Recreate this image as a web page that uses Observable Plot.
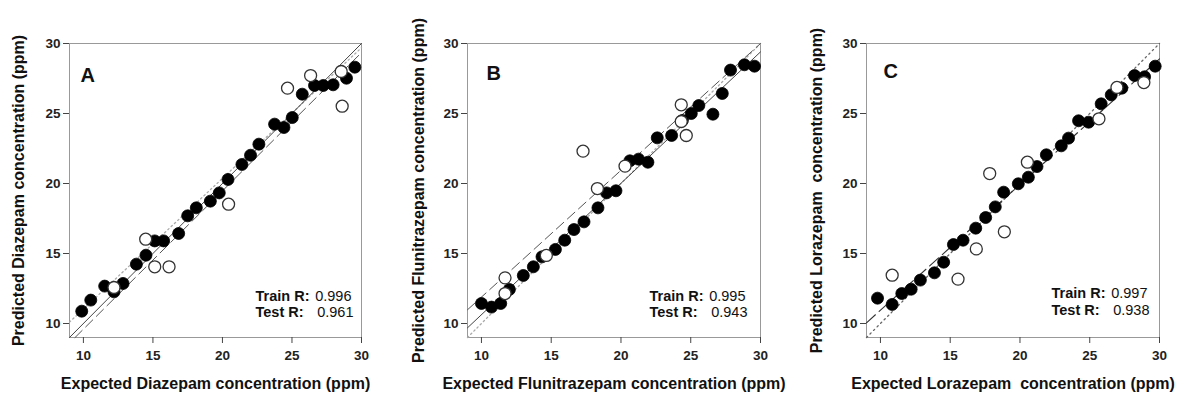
<!DOCTYPE html>
<html><head><meta charset="utf-8">
<script src="https://cdn.jsdelivr.net/npm/d3@7"></script>
<script src="https://cdn.jsdelivr.net/npm/@observablehq/plot@0.6"></script>
<style>
body{margin:0;background:#fff;}
#wrap{position:relative;width:1178px;height:396px;font-family:"Liberation Sans",Arial,sans-serif;}
#wrap svg{position:absolute;top:0;overflow:visible;}
svg text{white-space:pre;}
</style></head><body><div id="wrap"></div>
<script>
const axisDomain = [9, 30];
const tickValues = [10, 15, 20, 25, 30];

// Panel A — Diazepam
const aTrainX = [9.88,10.53,11.53,12.2,12.85,13.81,14.5,15.13,15.77,16.85,17.5,18.12,19.13,19.77,20.4,21.4,22.02,22.62,23.75,24.42,25.02,25.74,26.62,27.25,27.96,28.92,29.52];
const aTrainY = [10.88,11.67,12.67,12.26,12.86,14.24,14.88,15.9,15.9,16.43,17.69,18.26,18.74,19.33,20.29,21.36,22.02,22.81,24.24,24.0,24.71,26.38,27.0,27.0,27.05,27.52,28.31];
const aTestX = [12.2,14.48,15.13,16.16,20.44,24.68,26.34,28.54,28.61];
const aTestY = [12.57,16.02,14.05,14.05,18.52,26.81,27.71,28.0,25.52];
const aSolidX = [9, 30], aSolidY = [9, 30];
const aDashX = [9.4, 30], aDashY = [9, 29.35];
const aDotX = [9, 30], aDotY = [10.1, 29.7];

// Panel B — Flunitrazepam
const bTrainX = [10.0,10.72,11.38,12.0,13.0,13.72,14.34,15.3,15.97,16.63,17.35,18.35,18.97,19.64,20.64,21.26,21.93,22.6,23.63,24.4,25.04,25.58,26.59,27.26,27.85,28.85,29.57];
const bTrainY = [11.43,11.17,11.43,12.43,13.43,14.05,14.76,15.29,15.95,16.71,17.26,18.26,19.33,19.48,21.62,21.74,21.52,23.26,23.43,24.5,25.0,25.57,24.95,26.43,28.1,28.48,28.38];
const bTestX = [11.69,11.69,14.65,17.28,18.31,20.29,24.32,24.32,24.68];
const bTestY = [13.26,12.14,14.86,22.31,19.64,21.24,25.62,24.43,23.43];
const bSolidX = [9, 30], bSolidY = [9.69, 29.4];
const bDashX = [9, 30], bDashY = [10.98, 30];
const bDotX = [9, 30], bDotY = [9, 30];

// Panel C — Lorazepam
const cTrainX = [9.79,10.84,11.53,12.2,12.86,13.87,14.53,15.23,15.92,16.83,17.54,18.23,18.83,19.88,20.6,21.22,21.89,22.96,23.48,24.2,24.92,25.82,26.54,27.3,28.21,28.93,29.69];
const cTrainY = [11.81,11.36,12.14,12.45,13.1,13.62,14.38,15.64,15.95,16.81,17.57,18.33,19.38,19.98,20.45,21.21,22.05,22.69,23.24,24.48,24.38,25.69,26.33,26.81,27.71,27.62,28.38];
const cTestX = [10.84,15.56,16.87,17.83,18.88,20.53,25.66,26.95,28.88];
const cTestY = [13.45,13.17,15.33,20.71,16.55,21.52,24.62,26.86,27.21];
const cDashX = [9, 30], cDashY = [10.05, 28.9];
const cDotX = [9, 30], cDotY = [9, 30];

const panelLetters = ["A", "B", "C"];
const xLabels = ["Expected Diazepam concentration (ppm)", "Expected Flunitrazepam concentration (ppm)", "Expected Lorazepam  concentration (ppm)"];
const yLabels = ["Predicted Diazepam concentration (ppm)", "Predicted Flunitrazepam concentration (ppm)", "Predicted Lorazepam  concentration (ppm)"];
const trainR = ["0.996", "0.995", "0.997"];
const testR = ["0.961", "0.943", "0.938"];

const pts = (xs, ys) => xs.map((x, i) => ({x, y: ys[i]}));

function linesFor(spec) {
  return spec.map(s => Plot.line(pts(s.x, s.y), {x: "x", y: "y", stroke: s.stroke, strokeWidth: s.w, strokeDasharray: s.dash}));
}

const panels = [
  {left: 0, width: 390, ml: 69, mr: 29, train: pts(aTrainX, aTrainY), test: pts(aTestX, aTestY),
   lines: [
     {x: aDotX, y: aDotY, stroke: "#aaa", w: 1.3, dash: "1.5,3"},
     {x: aSolidX, y: aSolidY, stroke: "#444", w: 1},
     {x: aDashX, y: aDashY, stroke: "#555", w: 1, dash: "10,5"}],
   letterDx: 11, letterDy: 24, yDx: -51, statL: 106, valR: 10, trDy: -37, teDy: -21},
  {left: 390, width: 392, ml: 77, mr: 22, train: pts(bTrainX, bTrainY), test: pts(bTestX, bTestY),
   lines: [
     {x: bDotX, y: bDotY, stroke: "#aaa", w: 1.3, dash: "1.5,3"},
     {x: bSolidX, y: bSolidY, stroke: "#444", w: 1},
     {x: bDashX, y: bDashY, stroke: "#555", w: 1, dash: "10,5"}],
   letterDx: 19, letterDy: 22, yDx: -49, statL: 111, valR: 15, trDy: -37, teDy: -21},
  {left: 780, width: 398, ml: 86, mr: 19, train: pts(cTrainX, cTrainY), test: pts(cTestX, cTestY),
   lines: [
     {x: cDotX, y: cDotY, stroke: "#666", w: 1.3, dash: "1.5,3.5"},
     {x: cDashX, y: cDashY, stroke: "#333", w: 1.1, dash: "12,5"}],
   letterDx: 17, letterDy: 20, yDx: -50, statL: 108, valR: 12, trDy: -40, teDy: -23}
];

const wrap = document.getElementById("wrap");
panels.forEach((p, i) => {
  const chart = Plot.plot({
    width: p.width, height: 396,
    marginLeft: p.ml, marginRight: p.mr, marginTop: 43, marginBottom: 59,
    style: {fontFamily: "Liberation Sans, Arial, sans-serif", background: "transparent", overflow: "visible"},
    x: {domain: axisDomain, ticks: tickValues, label: null},
    y: {domain: axisDomain, ticks: tickValues, label: null},
    marks: [
      Plot.frame({stroke: "#999"}),
      Plot.axisX({ticks: tickValues, tickSize: 6, tickPadding: 7, fontSize: 13.5, fontWeight: "bold", label: null, stroke: "#444", fill: "#222"}),
      Plot.axisY({ticks: tickValues, tickSize: 6, tickPadding: 3, fontSize: 13.5, fontWeight: "bold", label: null, stroke: "#444", fill: "#222"}),
      ...linesFor(p.lines),
      Plot.dot(p.train, {x: "x", y: "y", r: 6, fill: "#000", stroke: "#000", strokeWidth: 0.8}),
      Plot.dot(p.test, {x: "x", y: "y", r: 6, fill: "#fff", stroke: "#333", strokeWidth: 1.3}),
      Plot.text([panelLetters[i]], {frameAnchor: "top-left", dx: p.letterDx, dy: p.letterDy, textAnchor: "start", fontSize: 20, fontWeight: "bold", fill: "#111"}),
      Plot.text(["Train R:"], {frameAnchor: "bottom-right", dx: -p.statL, dy: p.trDy, textAnchor: "start", fontSize: 14.5, fontWeight: "bold", fill: "#111"}),
      Plot.text([trainR[i]], {frameAnchor: "bottom-right", dx: -p.valR, dy: p.trDy, textAnchor: "end", fontSize: 14.5, fill: "#111"}),
      Plot.text(["Test R:"], {frameAnchor: "bottom-right", dx: -p.statL, dy: p.teDy, textAnchor: "start", fontSize: 14.5, fontWeight: "bold", fill: "#111"}),
      Plot.text([testR[i]], {frameAnchor: "bottom-right", dx: -p.valR + 2, dy: p.teDy, textAnchor: "end", fontSize: 14.5, fill: "#111"}),
      Plot.text([yLabels[i]], {frameAnchor: "left", textAnchor: "middle", rotate: -90, dx: p.yDx, fontSize: 16, fontWeight: "bold", fill: "#111"}),
      Plot.text([xLabels[i]], {frameAnchor: "bottom", textAnchor: "middle", dy: 51, fontSize: 16, fontWeight: "bold", fill: "#111"})
    ]
  });
  chart.style.left = p.left + "px";
  wrap.appendChild(chart);
});
</script></body></html>
